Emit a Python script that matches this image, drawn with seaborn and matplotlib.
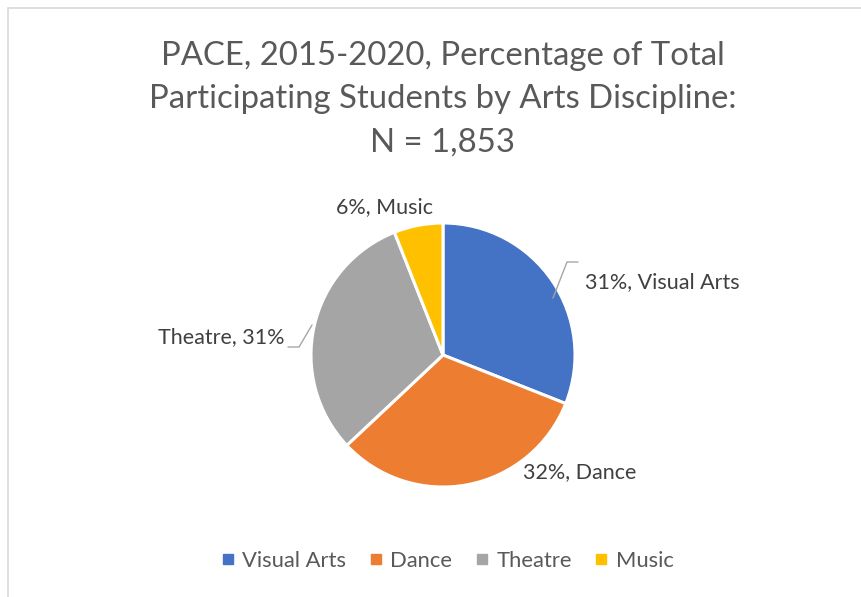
import matplotlib
matplotlib.use("Agg")
import matplotlib.pyplot as plt
import seaborn as sns
from matplotlib.patches import Rectangle
from matplotlib.lines import Line2D

sns.set_theme(style="white")
plt.rcParams['font.family'] = ['Lato', 'DejaVu Sans']

categories = ["Visual Arts", "Dance", "Theatre", "Music"]
percents = [31, 32, 31, 6]
labels = ["31%, Visual Arts", "32%, Dance", "Theatre, 31%", "6%, Music"]
colors = ["#4472C4", "#ED7D31", "#A5A5A5", "#FFC000"]
title = "PACE, 2015-2020, Percentage of Total\nParticipating Students by Arts Discipline:\nN = 1,853"

W, H = 861, 597
fig = plt.figure(figsize=(W / 100, H / 100), dpi=100)
fig.patch.set_facecolor("white")
ax = fig.add_axes([0, 0, 1, 1])

# chart frame (top and left edges visible)
fig.add_artist(Rectangle((8 / W, -0.1), 1.2, (H - 8) / H + 0.1, transform=fig.transFigure,
                         fill=False, edgecolor="#D9D9D9", linewidth=1.2))

cx, cy, r = 443, H - 355, 132
wedges, _ = ax.pie(percents, colors=colors, startangle=90, counterclock=False,
                   center=(cx, cy), radius=r, frame=True,
                   wedgeprops=dict(edgecolor="white", linewidth=2.2))
ax.set_xlim(0, W)
ax.set_ylim(0, H)
ax.set_aspect("equal")
ax.axis("off")

ax.text(W / 2 + 12, H - 99, title, ha="center", va="center", fontsize=23.7,
        color="#595959", linespacing=1.55)

tc = "#404040"
fs = 15.5
ax.text(585, H - 282, labels[0], ha="left", va="center", fontsize=fs, color=tc)
ax.text(523, H - 472, labels[1], ha="left", va="center", fontsize=fs, color=tc)
ax.text(285, H - 337, labels[2], ha="right", va="center", fontsize=fs, color=tc)
ax.text(385, H - 207, labels[3], ha="center", va="center", fontsize=fs, color=tc)

lc = "#A6A6A6"
ax.add_line(Line2D([553, 567, 578], [H - 298, H - 262, H - 262], color=lc, lw=1))
ax.add_line(Line2D([288, 299, 312], [H - 347, H - 347, H - 325], color=lc, lw=1))

handles = [Line2D([], [], marker="s", linestyle="none", markersize=7,
                  markerfacecolor=c, markeredgecolor=c) for c in colors]
leg = fig.legend(handles, categories, loc="center", bbox_to_anchor=(447 / W, 1 - 561 / H),
                 ncol=4, frameon=False, fontsize=15.8, handletextpad=0.3, columnspacing=1.0,
                 handlelength=0.7)
for t in leg.get_texts():
    t.set_color("#595959")

fig.savefig("out.png", dpi=100, facecolor="white")
